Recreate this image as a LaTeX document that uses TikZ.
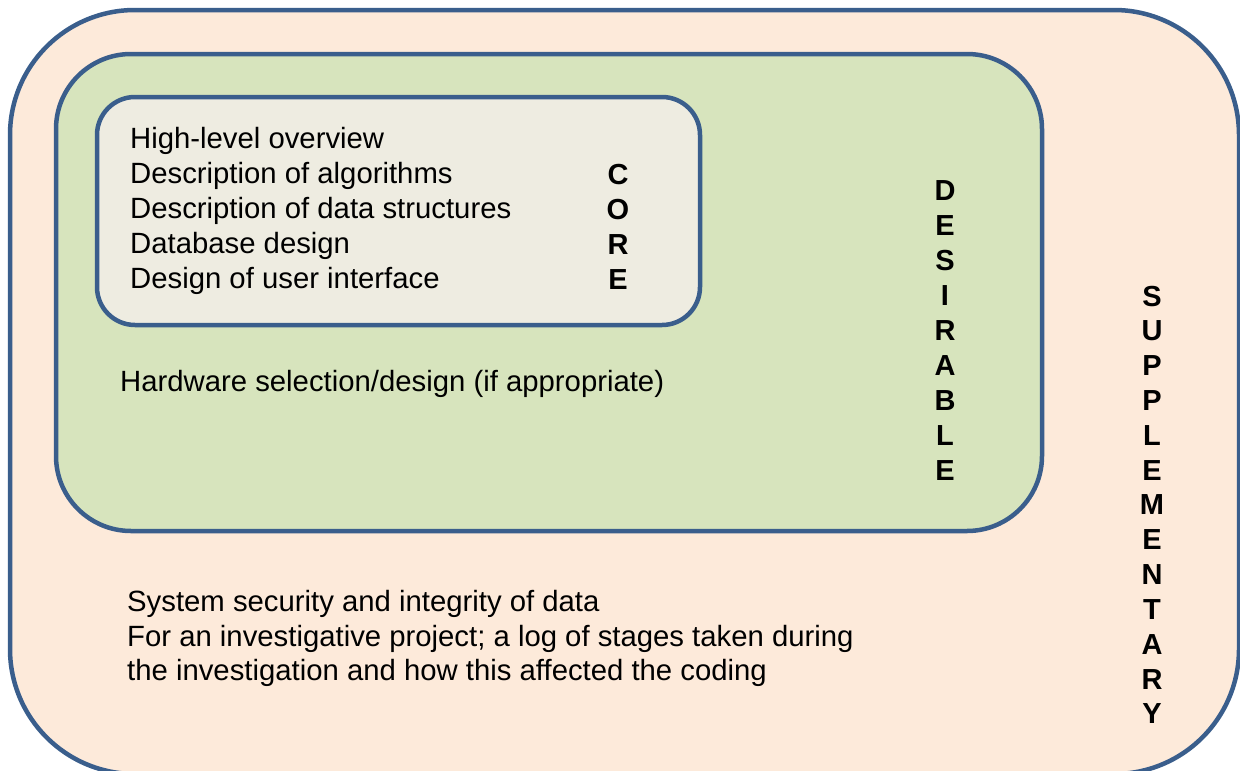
\documentclass[tikz,border=0pt]{standalone}
\usepackage{fontspec}
\setmainfont{Liberation Sans}
\definecolor{edge}{HTML}{3A5E8C}
\definecolor{peach}{HTML}{FDEADA}
\definecolor{sage}{HTML}{D7E4BD}
\definecolor{tan}{HTML}{EEECE1}
\tikzset{
  boxline/.style={draw=edge, line width=4.5pt},
  txt/.style={anchor=base west, inner sep=0pt, font=\fontsize{29.3}{35}\selectfont},
  vl/.style={anchor=base, inner sep=0pt, font=\fontsize{29}{35}\selectfont\bfseries},
}
\begin{document}
\begin{tikzpicture}[x=1pt,y=-1pt]
\useasboundingbox (0,0) rectangle (1240,771);
\clip (0,0) rectangle (1240,771);
\fill[white] (0,0) rectangle (1240,771);
% outer box
\draw[boxline, fill=peach, rounded corners=125pt] (10,10) rectangle (1239,774);
% desirable box
\draw[boxline, fill=sage, rounded corners=75pt] (56,54) rectangle (1042,531);
% core box
\draw[boxline, fill=tan, rounded corners=38pt] (97,97) rectangle (700,325);
% core text
\node[txt] (c1) at (130,148) {High-level overview};
\node[txt] (c2) at (130,183) {Description of algorithms};
\node[txt] (c3) at (130,218) {Description of data structures};
\node[txt] (c4) at (130,253) {Database design};
\node[txt] (c5) at (130,288) {Design of user interface};
\foreach \l [count=\i] in {C,O,R,E}
  \node[vl] (core\i) at (618,184+35*\i-35) {\l};
% desirable
\node[txt] (hw) at (120,391) {Hardware selection/design (if appropriate)};
\foreach \l [count=\i] in {D,E,S,I,R,A,B,L,E}
  \node[vl] (des\i) at (945,200+35*\i-35) {\l};
% supplementary
\node[txt] (s1) at (127,611) {System security and integrity of data};
\node[txt] (s2) at (127,646) {For an investigative project; a log of stages taken during};
\node[txt] (s3) at (127,680) {the investigation and how this affected the coding};
\foreach \l [count=\i] in {S,U,P,P,L,E,M,E,N,T,A,R,Y}
  \node[vl] (sup\i) at (1152,306+34.83*\i-34.83) {\l};
\end{tikzpicture}
\end{document}
